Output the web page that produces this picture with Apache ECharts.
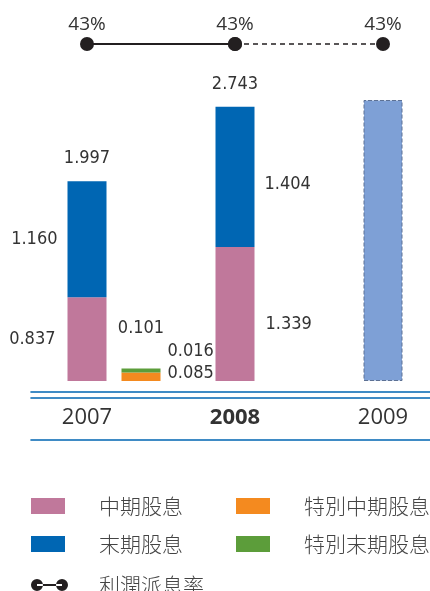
<!DOCTYPE html>
<html>
<head>
<meta charset="utf-8">
<script src="https://cdn.jsdelivr.net/npm/echarts@6/dist/echarts.min.js"></script>
<style>
  html, body { margin: 0; padding: 0; background: #fff; }
  #chart { width: 430px; height: 591px; }
</style>
</head>
<body>
<div id="chart"></div>
<script>
// data
const years = ['2007', '2008', '2009'];
const paidYears = ['2007', '2008'];
const interimDividend = [0.837, 1.339];
const finalDividend = [1.160, 1.404];
const dividendTotal = [1.997, 2.743];
const specialYears = ['2007'];
const specialInterim = [0.085];
const specialFinal = [0.016];
const specialTotal = [0.101];
const forecastYears = ['2009'];
const forecastDividend = [2.81];
const payoutYears = ['2007', '2008'];
const payoutRatio = [43, 43];
const payoutForecastYears = ['2008', '2009'];
const payoutForecast = [43, 43];

const PINK = '#c0789b';
const BLUE = '#0066b3';
const ORANGE = '#f48a1f';
const GREEN = '#5c9d3a';
const LIGHT_BLUE = '#7ea0d6';
const INK = '#231f20';
const numFont = "'Liberation Sans Narrow', 'DejaVu Sans Condensed', sans-serif";
const cjkFont = "'Noto Sans CJK TC', 'Noto Sans CJK SC', sans-serif";
const latinFont = "'Open Sans', 'Noto Sans', sans-serif";

// each year band is 148px wide, 2007 centred at x=87
const yearGrid = { left: 13, right: -27, outerBoundsMode: 'none' };
// the special dividend bar stands 54px right of the 2007 bar
const specialGrid = { left: 13 + 54, right: -27 - 54, outerBoundsMode: 'none' };
const barArea = { top: 81, bottom: 210 };

const fmt = v => v.toFixed(3);

function valueLabel(extra) {
  return Object.assign({
    show: true,
    color: '#333',
    fontFamily: numFont,
    fontSize: 18,
    formatter: p => fmt(p.value[1])
  }, extra);
}

function totalMark(xs, totals, distance) {
  return {
    symbol: 'circle',
    symbolSize: 1,
    itemStyle: { color: 'rgba(0,0,0,0)' },
    label: Object.assign(valueLabel({ position: 'top', distance: distance }), {
      formatter: p => fmt(p.value)
    }),
    data: xs.map((x, i) => ({ coord: [x, totals[i]], value: totals[i] }))
  };
}

function hiddenCategory(gridIndex, extra) {
  return Object.assign({
    type: 'category',
    gridIndex: gridIndex,
    position: 'bottom',
    data: years,
    axisLine: { show: false, onZero: false },
    axisTick: { show: false },
    axisLabel: { show: false },
    splitLine: { show: false }
  }, extra);
}

function rule(offset) {
  return {
    type: 'value',
    gridIndex: 2,
    position: 'bottom',
    min: 0,
    max: 1,
    offset: offset,
    axisLine: { show: true, onZero: false, lineStyle: { color: BLUE, width: 1.6 } },
    axisTick: { show: false },
    axisLabel: { show: false },
    splitLine: { show: false }
  };
}

const yearText = { fontFamily: latinFont, fontSize: 22, color: '#333', lineHeight: 22 };

const legendText = {
  color: '#444',
  fontFamily: cjkFont,
  fontSize: 21,
  fontWeight: 300,
  lineHeight: 22,
  padding: [0, 0, 0, 29]
};

const linkIcon = 'path://M0,6a6,6 0 1,0 12,0a6,6 0 1,0 -12,0zM25,6a6,6 0 1,0 12,0a6,6 0 1,0 -12,0zM6,5h25v2h-25z';

const chart = echarts.init(document.getElementById('chart'));

chart.setOption({
  animation: false,
  grid: [
    Object.assign({}, yearGrid, barArea),
    Object.assign({}, specialGrid, barArea),
    Object.assign({ left: 31, right: 0, outerBoundsMode: 'none' }, barArea),
    Object.assign({}, yearGrid, { top: 34, height: 20 })
  ],
  xAxis: [
    hiddenCategory(0, {
      offset: 11,
      axisLabel: {
        show: true,
        margin: 15,
        formatter: v => (v === '2008' ? '{b|' + v + '}' : '{n|' + v + '}'),
        rich: {
          n: yearText,
          b: Object.assign({}, yearText, { fontWeight: 'bold' })
        }
      }
    }),
    hiddenCategory(1),
    hiddenCategory(0),
    rule(11),
    rule(17),
    rule(59),
    hiddenCategory(3)
  ],
  yAxis: [
    { type: 'value', gridIndex: 0, min: 0, max: 3, show: false },
    { type: 'value', gridIndex: 1, min: 0, max: 3, show: false },
    { type: 'value', gridIndex: 2, min: 0, max: 3, show: false },
    { type: 'value', gridIndex: 3, min: 33, max: 53, show: false }
  ],
  legend: [
    {
      left: 31, top: 495, padding: 0, orient: 'vertical',
      itemWidth: 34, itemHeight: 16, itemGap: 16, icon: 'rect',
      textStyle: legendText,
      data: ['中期股息', '末期股息']
    },
    {
      left: 236, top: 495, padding: 0, orient: 'vertical',
      itemWidth: 34, itemHeight: 16, itemGap: 16, icon: 'rect',
      textStyle: legendText,
      data: ['特別中期股息', '特別末期股息']
    },
    {
      left: 31, top: 574, padding: 0, orient: 'vertical',
      itemWidth: 37, itemHeight: 12,
      textStyle: Object.assign({}, legendText, { padding: [0, 0, 0, 26] }),
      data: [{ name: '利潤派息率', icon: linkIcon }]
    }
  ],
  series: [
    {
      name: '中期股息',
      type: 'bar',
      xAxisIndex: 0,
      yAxisIndex: 0,
      stack: 'paid',
      barWidth: 39,
      itemStyle: { color: PINK },
      label: valueLabel(),
      data: paidYears.map((y, i) => ({
        value: [y, interimDividend[i]],
        label: i === 0
          ? { position: 'left', distance: 12 }
          : { position: 'right', distance: 11, offset: [0, 10] }
      }))
    },
    {
      name: '末期股息',
      type: 'bar',
      xAxisIndex: 0,
      yAxisIndex: 0,
      stack: 'paid',
      barWidth: 39,
      itemStyle: { color: BLUE },
      label: valueLabel(),
      data: paidYears.map((y, i) => ({
        value: [y, finalDividend[i]],
        label: i === 0
          ? { position: 'left', distance: 10 }
          : { position: 'right', distance: 10, offset: [0, 7] }
      })),
      markPoint: totalMark(paidYears, dividendTotal, 13)
    },
    {
      name: '特別中期股息',
      type: 'bar',
      xAxisIndex: 1,
      yAxisIndex: 1,
      stack: 'special',
      barWidth: 39,
      itemStyle: { color: ORANGE },
      label: valueLabel({ position: 'right', distance: 7, offset: [0, -3] }),
      data: specialYears.map((y, i) => [y, specialInterim[i]])
    },
    {
      name: '特別末期股息',
      type: 'bar',
      xAxisIndex: 1,
      yAxisIndex: 1,
      stack: 'special',
      barWidth: 39,
      barMinHeight: 4,
      itemStyle: { color: GREEN },
      label: valueLabel({ position: 'right', distance: 7, offset: [0, -19] }),
      data: specialYears.map((y, i) => [y, specialFinal[i]]),
      markPoint: totalMark(specialYears, specialTotal, 33)
    },
    {
      name: '預測',
      type: 'bar',
      xAxisIndex: 2,
      yAxisIndex: 0,
      barWidth: 39,
      itemStyle: { color: LIGHT_BLUE, borderColor: '#5d7194', borderWidth: 1, borderType: 'dashed' },
      data: forecastYears.map((y, i) => [y, forecastDividend[i]])
    },
    {
      name: '利潤派息率',
      type: 'line',
      xAxisIndex: 6,
      yAxisIndex: 3,
      symbol: 'circle',
      symbolSize: 14,
      itemStyle: { color: INK },
      lineStyle: { color: INK, width: 2 },
      label: {
        show: true, position: 'top', distance: 3,
        color: '#333', fontFamily: latinFont, fontSize: 19,
        formatter: p => p.value[1] + '%'
      },
      data: payoutYears.map((y, i) => [y, payoutRatio[i]]),
      z: 3
    },
    {
      name: '利潤派息率預測',
      type: 'line',
      xAxisIndex: 6,
      yAxisIndex: 3,
      symbol: 'circle',
      symbolSize: 14,
      itemStyle: { color: INK },
      lineStyle: { color: INK, width: 1.3, type: [5, 4] },
      label: {
        show: false, position: 'top', distance: 3,
        color: '#333', fontFamily: latinFont, fontSize: 19,
        formatter: p => p.value[1] + '%'
      },
      data: payoutForecastYears.map((y, i) => ({
        value: [y, payoutForecast[i]],
        label: { show: i === payoutForecastYears.length - 1 }
      })),
      z: 2
    }
  ]
});

window.addEventListener('resize', chart.resize);
</script>
</body>
</html>
